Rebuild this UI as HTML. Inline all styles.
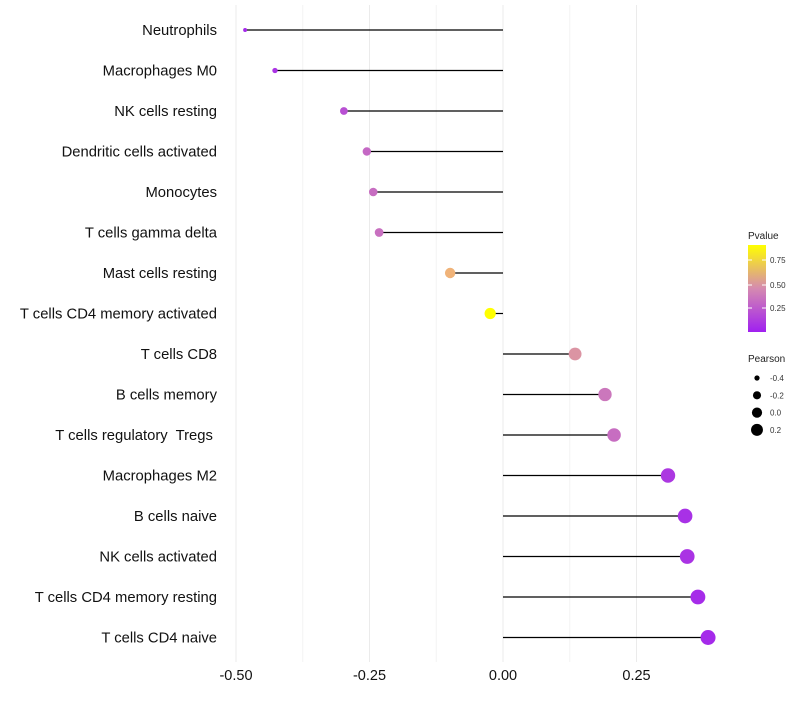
<!DOCTYPE html>
<html><head><meta charset="utf-8"><style>
body{margin:0;background:#fff;font-family:"Liberation Sans",sans-serif}
text{white-space:pre}
</style></head><body>
<svg id="chart" width="800" height="700" xmlns="http://www.w3.org/2000/svg" font-family="Liberation Sans, sans-serif">
<defs><linearGradient id="pg" x1="0" y1="1" x2="0" y2="0">
<stop offset="0" stop-color="#a020f0"/><stop offset="0.5" stop-color="#d58ab0"/><stop offset="1" stop-color="#ffff00"/>
</linearGradient></defs>
<g id="grid"></g>
<g id="marks"></g>
<g id="labels"></g>
<g id="xticks"></g>
<g>
<text x="748" y="239" font-size="10" fill="#222">Pvalue</text>
<rect x="748" y="245" width="18" height="87" fill="url(#pg)"/>
<line x1="748" x2="752" y1="260" y2="260" stroke="#fff"/><line x1="762" x2="766" y1="260" y2="260" stroke="#fff"/>
<line x1="748" x2="752" y1="285" y2="285" stroke="#fff"/><line x1="762" x2="766" y1="285" y2="285" stroke="#fff"/>
<line x1="748" x2="752" y1="308" y2="308" stroke="#fff"/><line x1="762" x2="766" y1="308" y2="308" stroke="#fff"/>
<text x="770" y="263" font-size="8" fill="#333">0.75</text>
<text x="770" y="288" font-size="8" fill="#333">0.50</text>
<text x="770" y="311" font-size="8" fill="#333">0.25</text>
</g>
<g id="sizeLegend">
<text x="748" y="362" font-size="10" fill="#222">Pearson</text>
</g>
</svg>
<script>
const categories=["Neutrophils","Macrophages M0","NK cells resting","Dendritic cells activated","Monocytes","T cells gamma delta","Mast cells resting","T cells CD4 memory activated","T cells CD8","B cells memory","T cells regulatory  Tregs ","Macrophages M2","B cells naive","NK cells activated","T cells CD4 memory resting","T cells CD4 naive"];
const pearson=[-0.483,-0.427,-0.298,-0.255,-0.243,-0.232,-0.099,-0.024,0.135,0.191,0.208,0.309,0.341,0.345,0.365,0.384];
const pvalues=[0.04,0.08,0.2,0.3,0.32,0.33,0.7,0.9,0.5,0.36,0.32,0.1,0.07,0.08,0.05,0.04];
const xTicks=[-0.5,-0.25,0,0.25];
const xMinor=[-0.375,-0.125,0.125];
const sizeLegend=[-0.4,-0.2,0.0,0.2];
const NS="http://www.w3.org/2000/svg";
const xs=v=>503+v*534;
const ys=i=>30+i*40.5;
const rs=v=>Math.sqrt(Math.max(2.5,4+60.5*(v+0.48)));
const rl=v=>Math.sqrt(Math.max(2.5,3+48*(v+0.48)));
function lerp(a,b,t){return a.map((x,i)=>Math.round(x+(b[i]-x)*t));}
function col(p){const t=Math.min(1,Math.max(0,p/0.88));const c0=[160,32,240],c1=[213,138,176],c2=[255,255,0];
const c=t<0.5?lerp(c0,c1,t/0.5):(t<0.8?lerp(c1,[240,180,120],(t-0.5)/0.3):lerp([240,180,120],c2,(t-0.8)/0.2));return `rgb(${c})`;}
function mk(t,a,p){const e=document.createElementNS(NS,t);for(const k in a)e.setAttribute(k,a[k]);p.appendChild(e);return e;}
const g=document.getElementById('grid');
xMinor.forEach(v=>{const l=mk('line',{x1:xs(v),x2:xs(v),y1:5,y2:662,stroke:'#f3f3f3','stroke-width':1},g);

});
const xt=document.getElementById('xticks');
xTicks.forEach(v=>{const l=mk('line',{x1:xs(v),x2:xs(v),y1:5,y2:662,stroke:'#ebebeb','stroke-width':1},g);


const t=mk('text',{x:xs(v),y:680,'font-size':14.5,'text-anchor':'middle',fill:'#111'},xt);


t.textContent=v.toFixed(2);});
const m=document.getElementById('marks'),lb=document.getElementById('labels');
categories.forEach((c,i)=>{const y=ys(i),v=pearson[i];
const l=mk('line',{x1:xs(0),x2:xs(v),y1:y,y2:y,stroke:'#000','stroke-width':1.2},m);


const d=mk('circle',{cx:xs(v),cy:y,r:rs(v),fill:col(pvalues[i])},m);


const t=mk('text',{x:217,y:y+5,'font-size':14.8,'text-anchor':'end',fill:'#111'},lb);


t.textContent=c;});
const sl=document.getElementById('sizeLegend');
sizeLegend.forEach((v,i)=>{const y=378+i*17.3;
const d=mk('circle',{cx:757,cy:y,r:rl(v),fill:'#000'},sl);


const t=mk('text',{x:770,y:y+3,'font-size':8,fill:'#333'},sl);


t.textContent=v.toFixed(1);});
</script>
</body></html>
